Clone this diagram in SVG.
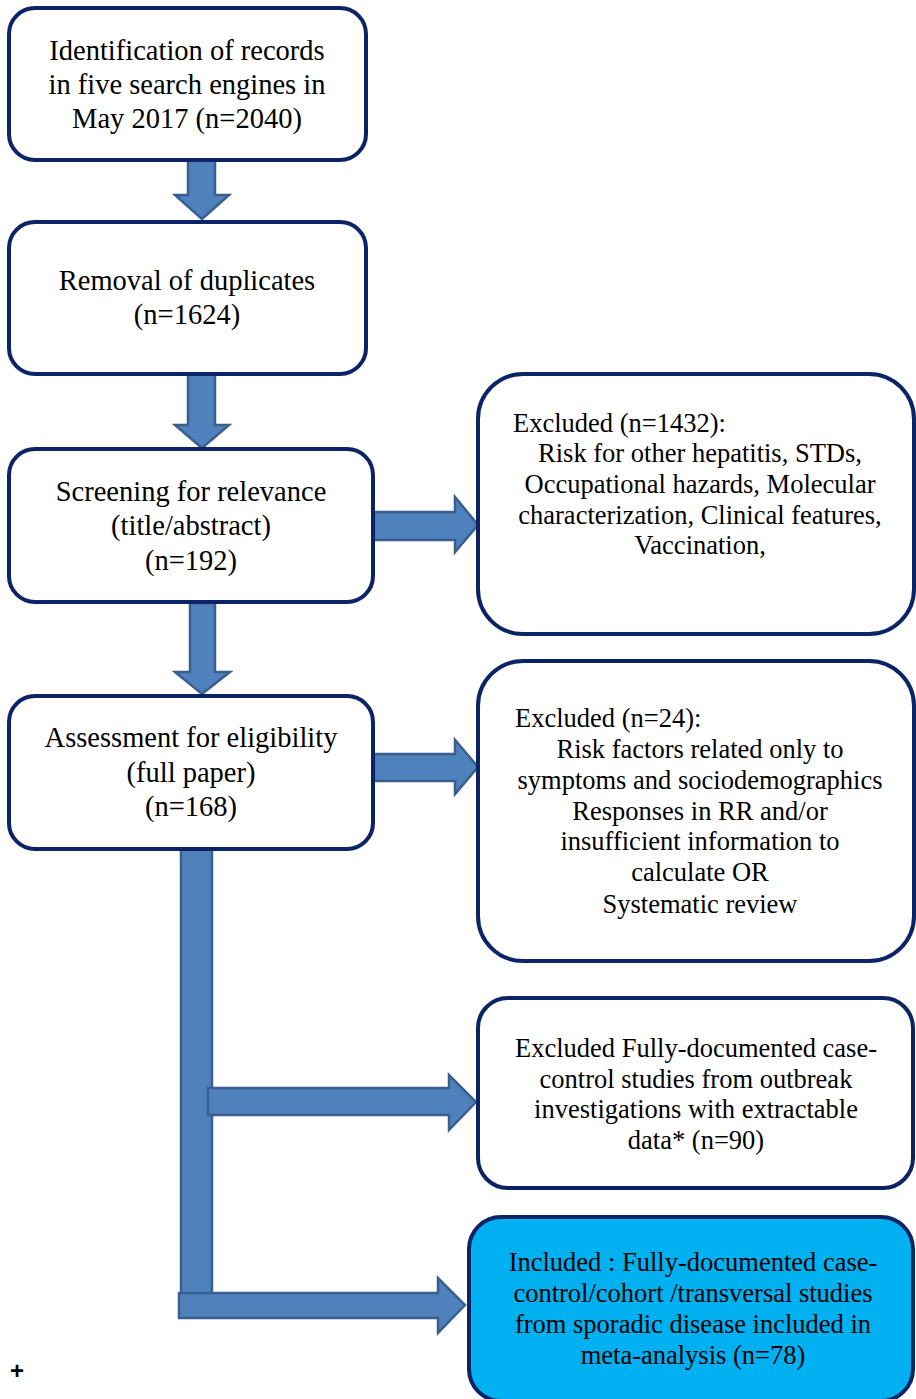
<svg xmlns="http://www.w3.org/2000/svg" width="916" height="1399" viewBox="0 0 916 1399">
<style>
.box{fill:#ffffff;stroke:#0c2466;stroke-width:4}
.inc{fill:#00b0f0;stroke:#0c2466;stroke-width:4}
.arr{fill:#4f81bd;stroke:#3a5f8e;stroke-width:2.5;stroke-linejoin:miter}
.tl{font-family:"Liberation Serif","Times New Roman",serif;font-size:28.5px;fill:#000;text-anchor:middle}
.tr{font-family:"Liberation Serif","Times New Roman",serif;font-size:26.5px;fill:#000;text-anchor:middle}
.ts{font-family:"Liberation Serif","Times New Roman",serif;font-size:26.5px;fill:#000;text-anchor:start}
</style>
<rect width="916" height="1399" fill="#ffffff"/>
<g id="connectors">
<polygon class="arr" points="188,160 215,160 215,195 229,195 202,219 175,195 188,195"/>
<polygon class="arr" points="188,374 215,374 215,425 229,425 202,448 175,425 188,425"/>
<polygon class="arr" points="190,603 215,603 215,672 230,672 202,694 175,672 190,672"/>
<polygon class="arr" points="374,512 455,512 455,497 478,525 455,552 455,540 374,540"/>
<polygon class="arr" points="374,754 455,754 455,740 478,767 455,794 455,781 374,781"/>
<rect class="arr" x="181" y="846" width="31" height="460"/>
<polygon class="arr" points="208,1088 449,1088 449,1075 476,1102 449,1130 449,1115 208,1115"/>
<polygon class="arr" points="179,1293 438,1293 438,1278 465,1305 438,1333 438,1318 179,1318"/>
</g>
<g id="n1">
<rect class="box" x="9" y="8" width="357" height="152" rx="26"/>
<text class="tl" x="187" y="60">Identification of records</text>
<text class="tl" x="187" y="94">in five search engines in</text>
<text class="tl" x="187" y="128">May 2017 (n=2040)</text>
</g>
<g id="n2">
<rect class="box" x="9" y="222" width="357" height="152" rx="26"/>
<text class="tl" x="187" y="290">Removal of duplicates</text>
<text class="tl" x="187" y="324">(n=1624)</text>
</g>
<g id="n3">
<rect class="box" x="9" y="449" width="364" height="153" rx="26"/>
<text class="tl" x="191" y="501">Screening for relevance</text>
<text class="tl" x="191" y="535">(title/abstract)</text>
<text class="tl" x="191" y="570">(n=192)</text>
</g>
<g id="n4">
<rect class="box" x="9" y="696" width="364" height="153" rx="26"/>
<text class="tl" x="191" y="747">Assessment for eligibility</text>
<text class="tl" x="191" y="782">(full paper)</text>
<text class="tl" x="191" y="816">(n=168)</text>
</g>
<g id="x1">
<rect class="box" x="478" y="374" width="436" height="260" rx="45"/>
<text class="ts" x="513" y="432">Excluded (n=1432):</text>
<text class="tr" x="700" y="462">Risk for other hepatitis, STDs,</text>
<text class="tr" x="700" y="493">Occupational hazards, Molecular</text>
<text class="tr" x="700" y="524">characterization, Clinical features,</text>
<text class="tr" x="700" y="554">Vaccination,</text>
</g>
<g id="x2">
<rect class="box" x="478" y="661" width="436" height="300" rx="45"/>
<text class="ts" x="515" y="727">Excluded (n=24):</text>
<text class="tr" x="700" y="758">Risk factors related only to</text>
<text class="tr" x="700" y="789">symptoms and sociodemographics</text>
<text class="tr" x="700" y="820">Responses in RR and/or</text>
<text class="tr" x="700" y="850">insufficient information to</text>
<text class="tr" x="700" y="881">calculate OR</text>
<text class="tr" x="700" y="913">Systematic review</text>
</g>
<g id="x3">
<rect class="box" x="478" y="998" width="435" height="190" rx="30"/>
<text class="tr" x="696" y="1057">Excluded Fully-documented case-</text>
<text class="tr" x="696" y="1088">control studies from outbreak</text>
<text class="tr" x="696" y="1118">investigations with extractable</text>
<text class="tr" x="696" y="1149">data* (n=90)</text>
</g>
<g id="inc">
<rect class="inc" x="469" y="1217" width="444" height="184" rx="32"/>
<text class="tr" x="693" y="1271">Included : Fully-documented case-</text>
<text class="tr" x="693" y="1302">control/cohort /transversal studies</text>
<text class="tr" x="693" y="1333">from sporadic disease included in</text>
<text class="tr" x="693" y="1364">meta-analysis (n=78)</text>
</g>
<text x="17" y="1379" font-family="Liberation Sans, Arial, sans-serif" font-size="24" font-weight="bold" text-anchor="middle" fill="#000">+</text>
</svg>
